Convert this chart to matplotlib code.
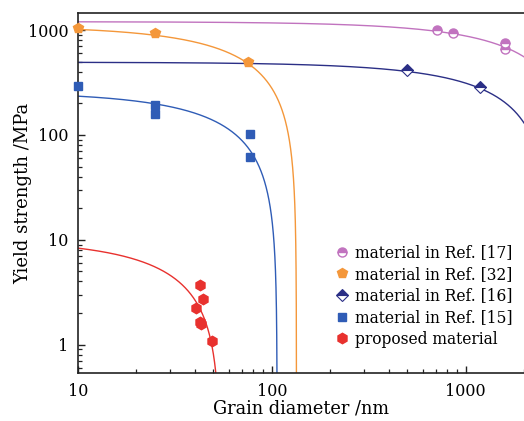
import numpy as np
import matplotlib.pyplot as plt
from matplotlib.ticker import LogLocator, NullFormatter, FixedLocator, FixedFormatter

plt.rcParams['font.family'] = ['DejaVu Serif']

# Measured points (grain diameter nm, yield strength MPa)
ref17_d = [710, 865, 1600, 1600]
ref17_s = [1010, 940, 750, 655]
ref32_d = [10, 25, 75.5]
ref32_s = [1050, 945, 500]
ref16_d = [498, 1190]
ref16_s = [415, 284]
ref15_d = [10, 25, 25, 77.6, 77.6]
ref15_s = [292, 194, 158, 102, 61.5]
prop_d = [42.6, 44, 40.4, 42.6, 43.2, 49.2]
prop_s = [3.7, 2.75, 2.25, 1.65, 1.58, 1.07]

# Model curves sigma = s0 * (1 - d / dc)
fit_s0 = {'ref17': 1206, 'ref32': 1100, 'ref16': 495, 'ref15': 259, 'prop': 10.2}
fit_dc = {'ref17': 3716, 'ref32': 134, 'ref16': 2714, 'ref15': 106.5, 'prop': 54.25}

colors = {'ref17': '#c173bf', 'ref32': '#f4973a', 'ref16': '#2b2f86',
          'ref15': '#2f5cb6', 'prop': '#e8312e'}

fig = plt.figure(figsize=(5.24, 4.21), dpi=100)
ax = fig.add_axes([78 / 524, 48 / 421, 1 - 78 / 524, (373 - 13.3) / 421])

d = np.logspace(1, np.log10(2000), 6000)
for key in ['ref17', 'ref32', 'ref16', 'ref15', 'prop']:
    dd = np.sort(np.append(d[d < fit_dc[key]], fit_dc[key] * 0.99999))
    s = fit_s0[key] * (1 - dd / fit_dc[key])
    ax.plot(dd, s, color=colors[key], lw=1.0, zorder=2)

ax.plot(ref17_d, ref17_s, 'o', ms=6.5, color=colors['ref17'], fillstyle='top',
        markerfacecoloralt='white', mec=colors['ref17'], mew=1.0,
        label='material in Ref. [17]', zorder=3)
ax.plot(ref32_d, ref32_s, 'p', ms=7.5, color=colors['ref32'],
        label='material in Ref. [32]', zorder=3, clip_on=False)
ax.plot(ref16_d, ref16_s, 'D', ms=6, color=colors['ref16'], fillstyle='top',
        markerfacecoloralt='white', mec=colors['ref16'], mew=0.8,
        label='material in Ref. [16]', zorder=3)
ax.plot(ref15_d, ref15_s, 's', ms=5.2, color=colors['ref15'],
        label='material in Ref. [15]', zorder=3, clip_on=False)
ax.plot(prop_d, prop_s, 'h', ms=7.5, color=colors['prop'],
        label='proposed material', zorder=3)

ax.set_xscale('log')
ax.set_yscale('log')
ax.set_xlim(10, 2000)
ax.set_ylim(0.535, 1450)

ax.xaxis.set_major_locator(FixedLocator([10, 100, 1000]))
ax.xaxis.set_major_formatter(FixedFormatter(['10', '100', '1000']))
ax.yaxis.set_major_locator(FixedLocator([1, 10, 100, 1000]))
ax.yaxis.set_major_formatter(FixedFormatter(['1', '10', '100', '1000']))
for axis in [ax.xaxis, ax.yaxis]:
    axis.set_minor_locator(LogLocator(base=10, subs=np.arange(2, 10)))
    axis.set_minor_formatter(NullFormatter())

ax.tick_params(which='both', direction='in', labelsize=11.5, color='#222222')
ax.tick_params(which='major', length=5, width=1.0, pad=7)
ax.tick_params(which='minor', length=3, width=0.9)
ax.tick_params(axis='x', which='both', top=False)
ax.tick_params(axis='y', which='both', right=False)
for side in ['left', 'bottom', 'top']:
    ax.spines[side].set_linewidth(1.2)
    ax.spines[side].set_color('#222222')
ax.spines['right'].set_visible(False)

ax.set_xlabel('Grain diameter /nm', fontsize=12.8, labelpad=0)
ax.set_ylabel('Yield strength /MPa', fontsize=13, labelpad=-3)

ax.legend(loc='lower right', bbox_to_anchor=(1.0, 0.04), frameon=False,
          fontsize=11.2, handlelength=0.8, handletextpad=0.45, labelspacing=0.3,
          borderpad=0.2)

fig.savefig('out.png', dpi=100)
